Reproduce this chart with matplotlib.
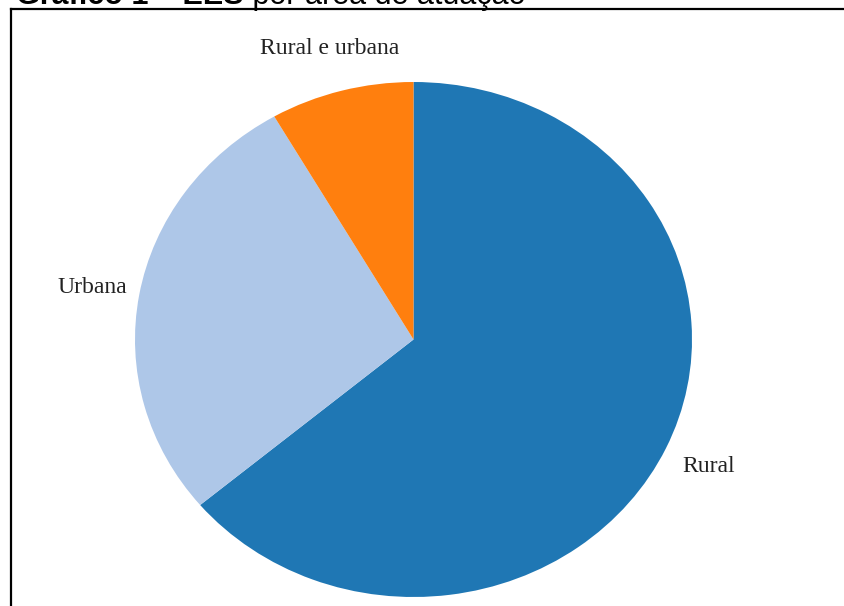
import numpy as np
import matplotlib.pyplot as plt
from matplotlib.lines import Line2D

# donnees (nombre d'EES par zone)
categorias = ["Rural", "Urbana", "Rural e urbana"]
valores = [23, 10, 3]
cores = ["#1f77b4", "#aec7e8", "#ff7f0e"]

W, H = 844, 606
fig = plt.figure(figsize=(W / 100, H / 100), dpi=100)

# cadre
fig.add_artist(Line2D([11 / W, 1], [1 - 9 / H, 1 - 9 / H], color="black", lw=1.6))
fig.add_artist(Line2D([11 / W, 11 / W], [0, 1 - 9 / H], color="black", lw=1.6))

# titre (coupe en haut)
t1 = fig.text(16 / W, 1 - 4 / H, "Gráfico 1 – EES", fontsize=22, fontweight="bold",
              family="Liberation Sans", va="baseline", ha="left")
fig.canvas.draw()
bb = t1.get_window_extent()
fig.text(bb.x1 / W, 1 - 4 / H, " por área de atuação", fontsize=22,
         family="Liberation Sans", va="baseline", ha="left")

# camembert (legerement etire)
x0, x1 = 135, 692
y0, y1 = 82, 597
ax = fig.add_axes([x0 / W, 1 - y1 / H, (x1 - x0) / W, (y1 - y0) / H])
wedges, texts = ax.pie(valores, labels=categorias, colors=cores, startangle=90,
                       counterclock=False, labeldistance=1.17,
                       textprops=dict(fontsize=17, family="Liberation Serif", color="#222222"))
for t in texts:
    t.set_ha("center")
    t.set_va("center")
ax.set_xlim(-1, 1)
ax.set_ylim(-1, 1)
ax.set_aspect("auto")
ax.axis("off")

fig.savefig("out.png", dpi=100)
